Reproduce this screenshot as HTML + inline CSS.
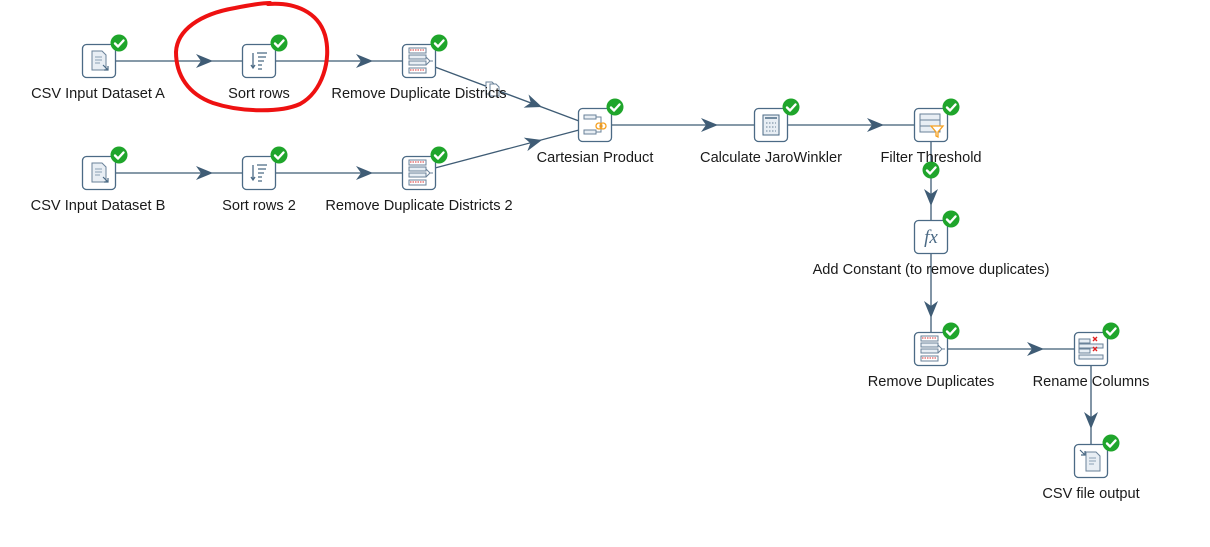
<!DOCTYPE html>
<html><head><meta charset="utf-8"><style>
html,body{margin:0;padding:0;background:#fff;}
svg{display:block;}
text{font-family:"Liberation Sans",sans-serif;font-size:14.6px;fill:#1a1a1a;text-anchor:middle;}
</style></head><body>
<svg width="1210" height="547" viewBox="0 0 1210 547" xmlns="http://www.w3.org/2000/svg">
<defs>
<g id="chk"><circle r="8.5" fill="#1fa52b"/><path d="M-4,0.5 L-1,3.5 L4.5,-2.5" stroke="#fff" stroke-width="2.4" fill="none" stroke-linecap="round" stroke-linejoin="round"/></g>
<g id="box"><rect x="-16.5" y="-16.5" width="33" height="33" rx="4" fill="#fff" stroke="#4b6a85" stroke-width="1.3"/></g>
<polygon id="arr" points="0,0 -17,-7 -12,0 -17,7" fill="#3f5c75"/>
<g id="doc"><path d="M-7,-10 h10 l4,4 v15 h-14z" fill="#e8eef4" stroke="#6a8299"/><path d="M-4,-4 h7 M-4,-1 h7 M-4,2 h5" stroke="#8aa0b4"/></g>
<g id="sort"><path d="M-6,-8 v14 M-8,4 l2,3 l2,-3" stroke="#4b6a85" fill="none" stroke-width="1.3"/><path d="M-2,-8 h10 M-1,-4 h8 M-1,0 h6 M-1,4 h4 M-1,8 h4" stroke="#4b6a85" stroke-width="1.3"/></g>
<g id="dup"><rect x="-10" y="-13" width="17" height="5" fill="#fff" stroke="#6a8299"/><path d="M-9,-11 h15" stroke="#d33" stroke-dasharray="1.5 1"/><rect x="-10" y="-6" width="17" height="4" fill="#e8eef4" stroke="#6a8299"/><rect x="-10" y="0" width="17" height="4" fill="#e8eef4" stroke="#6a8299"/><rect x="-10" y="7" width="17" height="5" fill="#fff" stroke="#6a8299"/><path d="M-9,9 h15" stroke="#d33" stroke-dasharray="1.5 1"/><path d="M7,-4 l4,4 l-4,4 M11,0 h3" stroke="#6a8299" fill="none"/></g>
</defs>

<g stroke="#3f5c75" stroke-width="1.3" fill="none">
<line x1="115" y1="61" x2="243" y2="61"/>
<line x1="275" y1="61" x2="403" y2="61"/>
<line x1="115" y1="173" x2="243" y2="173"/>
<line x1="275" y1="173" x2="403" y2="173"/>
<line x1="435" y1="67" x2="579" y2="121"/>
<line x1="435" y1="168" x2="579" y2="130"/>
<line x1="611" y1="125" x2="755" y2="125"/>
<line x1="787" y1="125" x2="915" y2="125"/>
<line x1="931" y1="141" x2="931" y2="221"/>
<line x1="931" y1="253" x2="931" y2="333"/>
<line x1="947" y1="349" x2="1075" y2="349"/>
<line x1="1091" y1="365" x2="1091" y2="445"/>
</g>
<use href="#arr" transform="translate(213,61)"/>
<use href="#arr" transform="translate(373,61)"/>
<use href="#arr" transform="translate(213,173)"/>
<use href="#arr" transform="translate(373,173)"/>
<use href="#arr" transform="translate(542,107) rotate(20.6)"/>
<use href="#arr" transform="translate(542,140) rotate(-14.8)"/>
<use href="#arr" transform="translate(718,125)"/>
<use href="#arr" transform="translate(884,125)"/>
<use href="#arr" transform="translate(931,206) rotate(90)"/>
<use href="#arr" transform="translate(931,318) rotate(90)"/>
<use href="#arr" transform="translate(1044,349)"/>
<use href="#arr" transform="translate(1091,429) rotate(90)"/>

<g transform="translate(99,61)"><use href="#box"/><use href="#doc"/><path d="M4,4 l5,5 M9,5 v4 h-4" stroke="#4b6a85" fill="none" stroke-width="1.2"/><use href="#chk" x="20" y="-18"/></g>
<g transform="translate(259,61)"><use href="#box"/><use href="#sort"/><use href="#chk" x="20" y="-18"/></g>
<g transform="translate(419,61)"><use href="#box"/><use href="#dup"/><use href="#chk" x="20" y="-18"/></g>
<g transform="translate(99,173)"><use href="#box"/><use href="#doc"/><path d="M4,4 l5,5 M9,5 v4 h-4" stroke="#4b6a85" fill="none" stroke-width="1.2"/><use href="#chk" x="20" y="-18"/></g>
<g transform="translate(259,173)"><use href="#box"/><use href="#sort"/><use href="#chk" x="20" y="-18"/></g>
<g transform="translate(419,173)"><use href="#box"/><use href="#dup"/><use href="#chk" x="20" y="-18"/></g>
<g transform="translate(595,125)"><use href="#box"/><rect x="-11" y="-10" width="12" height="4" fill="#e8eef4" stroke="#6a8299"/><rect x="-11" y="5" width="12" height="4" fill="#e8eef4" stroke="#6a8299"/><path d="M1,-8 h5 v15 h-5" stroke="#6a8299" fill="none"/><circle cx="4" cy="1" r="3" fill="none" stroke="#f5a020" stroke-width="1.3"/><circle cx="8" cy="1" r="3" fill="none" stroke="#f5a020" stroke-width="1.3"/><use href="#chk" x="20" y="-18"/></g>
<g transform="translate(771,125)"><use href="#box"/><rect x="-8" y="-10" width="16" height="20" fill="#e8eef4" stroke="#4b6a85"/><path d="M-6,-7 h12" stroke="#4b6a85" stroke-width="1.5"/><path d="M-5,-2 h10 M-5,2 h10 M-5,6 h10" stroke="#6a8299" stroke-dasharray="1.5 1.5"/><use href="#chk" x="20" y="-18"/></g>
<g transform="translate(931,125)"><use href="#box"/><rect x="-11" y="-11" width="20" height="18" fill="#e8eef4" stroke="#6a8299"/><path d="M-11,-5 h20 M-11,1 h20" stroke="#6a8299"/><path d="M0,1 h12 l-5,6 v5 l-2,-1 v-4z" fill="#fff" stroke="#f5a020" stroke-width="1.3"/><use href="#chk" x="20" y="-18"/></g>
<use href="#chk" x="931" y="170"/>
<g transform="translate(931,237)"><use href="#box"/><text x="0" y="6" style="font-family:'Liberation Serif',serif;font-style:italic;font-size:19px;fill:#4b6a85">fx</text><use href="#chk" x="20" y="-18"/></g>
<g transform="translate(931,349)"><use href="#box"/><use href="#dup"/><use href="#chk" x="20" y="-18"/></g>
<g transform="translate(1091,349)"><use href="#box"/><rect x="-12" y="-10" width="11" height="4" fill="#e8eef4" stroke="#6a8299"/><rect x="-12" y="-5" width="24" height="4" fill="#e8eef4" stroke="#6a8299"/><rect x="-12" y="0" width="11" height="4" fill="#e8eef4" stroke="#6a8299"/><rect x="-12" y="6" width="24" height="4" fill="#e8eef4" stroke="#6a8299"/><path d="M2,-12 l4,4 M6,-12 l-4,4 M2,-2 l4,4 M6,-2 l-4,4" stroke="#e02020" stroke-width="1.4"/><use href="#chk" x="20" y="-18"/></g>
<g transform="translate(1091,461)"><use href="#box"/><g transform="translate(2,1)"><use href="#doc"/></g><path d="M-11,-11 l5,5 M-6,-10 v4 h-4" stroke="#4b6a85" fill="none" stroke-width="1.2"/><use href="#chk" x="20" y="-18"/></g>

<g transform="translate(486,82)" stroke="#6a8299" fill="#fff"><path d="M0,0 h6 l3,3 v9 h-9z"/><path d="M4,2 h6 l3,3 v9 h-9z"/></g>

<text x="98" y="98">CSV Input Dataset A</text>
<text x="259" y="98">Sort rows</text>
<text x="419" y="98">Remove Duplicate Districts</text>
<text x="98" y="210">CSV Input Dataset B</text>
<text x="259" y="210">Sort rows 2</text>
<text x="419" y="210">Remove Duplicate Districts 2</text>
<text x="595" y="162">Cartesian Product</text>
<text x="771" y="162">Calculate JaroWinkler</text>
<text x="931" y="162">Filter Threshold</text>
<text x="931" y="274">Add Constant (to remove duplicates)</text>
<text x="931" y="386">Remove Duplicates</text>
<text x="1091" y="386">Rename Columns</text>
<text x="1091" y="498">CSV file output</text>

<path d="M268,4 C295,2 318,12 325,35 C332,60 322,92 300,104 C280,113 240,112 213,103 C188,94 176,75 176,52 C177,30 200,14 235,8 C250,5 262,3 270,3" fill="none" stroke="#ee1111" stroke-width="4" stroke-linecap="round"/>
</svg>
</body></html>
